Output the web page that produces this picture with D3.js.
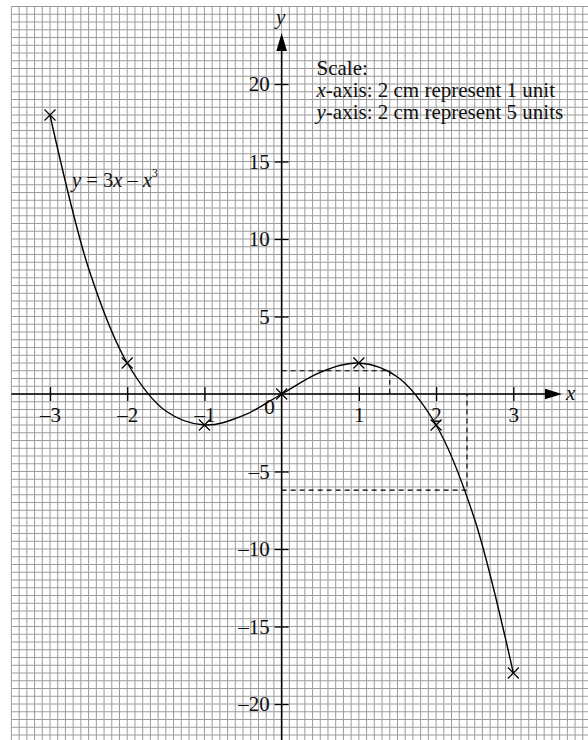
<!DOCTYPE html>
<html><head><meta charset="utf-8">
<script src="https://cdn.jsdelivr.net/npm/d3@7"></script>
<style>
html,body{margin:0;padding:0;background:#fff;}
svg{display:block;}
text{font-family:"Liberation Serif","Times New Roman",serif;fill:#111;}
</style></head>
<body>
<svg id="c" width="588" height="740"></svg>
<script>
// plotted points (crosses)
const pointX = [-3, -2, -1, 0, 1, 2, 3];
const pointY = [18, 2, -2, 0, 2, -2, -18];
// curve
const curveX = [-3, -2.5, -2, -1.5, -1, -0.5, 0, 0.5, 1, 1.5, 2, 2.5, 3];
const curveY = [18, 8.1, 2, -1.1, -2, -1.4, 0, 1.4, 2, 1.1, -2, -8.1, -18];
// tick labels
const xTicks = [-3, -2, -1, 1, 2, 3];
const yTicks = [-20, -15, -10, -5, 5, 10, 15, 20];
// dashed guide lines (x, y)
const guideX = [1.4, 2.4];
const guideY = [1.5, -6.2];
const scaleLines = ["Scale:", "-axis: 2 cm represent 1 unit", "-axis: 2 cm represent 5 units"];

const svg = d3.select("#c");
const x = d3.scaleLinear().domain([-3, 3]).range([50, 513.3]);
const y = d3.scaleLinear().domain([-20, 20]).range([704, 84]);

// grid
const g = svg.append("g");
const vx = d3.range(-35, 40).map(i => i / 10);
const hy = d3.range(-44, 51).map(i => i / 2);
g.selectAll("line.v").data(vx).join("line")
  .attr("x1", d => x(d)).attr("x2", d => x(d))
  .attr("y1", y(25)).attr("y2", 740)
  .attr("stroke", "#9c9c9c").attr("stroke-width", 1);
g.selectAll("line.h").data(hy).join("line")
  .attr("x1", x(-3.5)).attr("x2", 588)
  .attr("y1", d => y(d)).attr("y2", d => y(d))
  .attr("stroke", "#9c9c9c").attr("stroke-width", 1);

// axes lines
const x0 = x(0), y0 = y(0);
svg.append("line").attr("x1", x(-3.5)).attr("x2", 552).attr("y1", y0).attr("y2", y0)
  .attr("stroke", "#000").attr("stroke-width", 1.6);
svg.append("line").attr("x1", x0).attr("x2", x0).attr("y1", 740).attr("y2", 42)
  .attr("stroke", "#000").attr("stroke-width", 1.6);
svg.append("path").attr("d", `M${x0},33 L${x0-5.3},51 L${x0+5.3},51 Z`).attr("fill", "#000");
svg.append("path").attr("d", `M562,${y0} L545,${y0-5.3} L545,${y0+5.3} Z`).attr("fill", "#000");
svg.append("text").attr("x", x0 - 1).attr("y", 24).attr("text-anchor", "middle")
  .attr("font-style", "italic").attr("font-size", 21).text("y");
svg.append("text").attr("x", 566).attr("y", y0 + 6).attr("font-style", "italic")
  .attr("font-size", 21).text("x");

const fmt = d => d < 0 ? "\u2013" + Math.abs(d) : String(d);
const xa = svg.append("g").attr("transform", `translate(0,${y0 - 7})`)
  .call(d3.axisBottom(x).tickValues(xTicks).tickSize(14).tickPadding(6).tickFormat(fmt));
const ya = svg.append("g").attr("transform", `translate(${x0 + 7},0)`)
  .call(d3.axisLeft(y).tickValues(yTicks).tickSize(14).tickPadding(5).tickFormat(fmt));
[xa, ya].forEach(a => {
  a.select(".domain").remove();
  a.selectAll(".tick line").attr("stroke", "#000").attr("stroke-width", 1.3);
  a.selectAll(".tick text").attr("font-family", "Liberation Serif").attr("font-size", 21).attr("fill", "#111");
});
svg.append("text").attr("x", x0 - 7).attr("y", y0 + 20).attr("text-anchor", "end")
  .attr("font-size", 21).text("0");

// dashed guides
const gd = svg.append("g").attr("stroke", "#000").attr("stroke-width", 1.1).attr("stroke-dasharray", "5,4").attr("fill", "none");
guideX.forEach((gx, i) => {
  gd.append("path").attr("d", `M${x(0)},${y(guideY[i])} H${x(gx)} V${y(0)}`);
});

// curve
const pts = curveX.map((d, i) => [d, curveY[i]]);
svg.append("path").datum(pts)
  .attr("d", d3.line().x(d => x(d[0])).y(d => y(d[1])).curve(d3.curveCatmullRom.alpha(0.5)))
  .attr("fill", "none").attr("stroke", "#000").attr("stroke-width", 1.4);

// crosses
const s = 5.5;
svg.append("g").selectAll("path").data(pointX.map((d, i) => [d, pointY[i]])).join("path")
  .attr("d", d => { const px = x(d[0]), py = y(d[1]);
    return `M${px-s},${py-s}L${px+s},${py+s}M${px-s},${py+s}L${px+s},${py-s}`; })
  .attr("stroke", "#000").attr("stroke-width", 1.2).attr("fill", "none");

// scale note
const st = svg.append("g").attr("font-size", 21);
st.append("text").attr("x", 316.5).attr("y", 75).text(scaleLines[0]);
const l2 = st.append("text").attr("x", 316.5).attr("y", 97);
l2.append("tspan").attr("font-style", "italic").text("x");
l2.append("tspan").text(scaleLines[1]);
const l3 = st.append("text").attr("x", 316.5).attr("y", 119);
l3.append("tspan").attr("font-style", "italic").text("y");
l3.append("tspan").text(scaleLines[2]);

// equation label
const eq = svg.append("text").attr("x", 72).attr("y", 187).attr("font-size", 20.5);
eq.append("tspan").attr("font-style", "italic").text("y");
eq.append("tspan").text(" = 3");
eq.append("tspan").attr("font-style", "italic").text("x");
eq.append("tspan").text(" \u2013 ");
eq.append("tspan").attr("font-style", "italic").text("x");
eq.append("tspan").attr("font-size", 11.5).attr("dy", -10).text("3");
</script>
</body></html>
